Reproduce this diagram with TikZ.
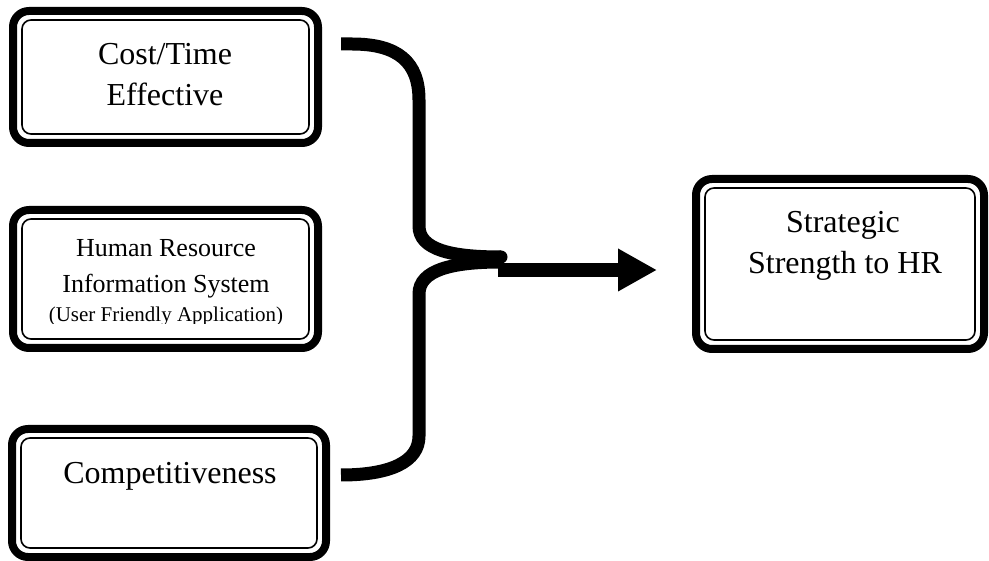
\documentclass[tikz,border=0pt]{standalone}
\usepackage{fontspec}
\setmainfont{Liberation Serif}
\usetikzlibrary{arrows.meta}
\tikzset{
  outerbox/.style={draw=black, line width=8pt, rounded corners=16pt, inner sep=0pt, fill=white},
  innerline/.style={draw=black, line width=1.6pt, rounded corners=9pt},
  lbl/.style={anchor=base, inner sep=0pt, font=\fontsize{32}{38}\selectfont},
  conn/.style={draw=black, line width=13pt, line cap=butt},
}
\begin{document}
\begin{tikzpicture}[x=1pt,y=-1pt]
\useasboundingbox (0,0) rectangle (989,561);
% boxes
\node[outerbox, minimum width=305pt, minimum height=132pt] (b1) at (165.5,77) {};
\draw[innerline] ([shift={(13,13)}]b1.north west) rectangle ([shift={(-13,-13)}]b1.south east);
\node[outerbox, minimum width=305pt, minimum height=138pt] (b2) at (165.5,279) {};
\draw[innerline] ([shift={(13,13)}]b2.north west) rectangle ([shift={(-13,-13)}]b2.south east);
\node[outerbox, minimum width=314pt, minimum height=128pt] (b3) at (169,493) {};
\draw[innerline] ([shift={(13,13)}]b3.north west) rectangle ([shift={(-13,-13)}]b3.south east);
\node[outerbox, minimum width=288pt, minimum height=170pt] (b4) at (840,264) {};
\draw[innerline] ([shift={(13,13)}]b4.north west) rectangle ([shift={(-13,-13)}]b4.south east);
% texts
\node[lbl] (t1a) at (165,65) {Cost/Time};
\node[lbl] (t1b) at (165,106) {Effective};
\node[lbl, font=\fontsize{26}{30}\selectfont] (t2a) at (166,257) {Human Resource};
\node[lbl, font=\fontsize{26}{30}\selectfont] (t2b) at (166,293) {Information System};
\begin{scope}
\clip (20,300) rectangle (310,324);
\node[lbl, font=\fontsize{21}{25}\selectfont] (t2c) at (166,322) {(User Friendly Application)};
\end{scope}
\node[lbl] (t3) at (170,483) {Competitiveness};
\node[lbl] (t4a) at (843,233) {Strategic};
\node[lbl] (t4b) at (845,274) {Strength to HR};
% connectors
\coordinate (c1) at (341,44);
\coordinate (c3) at (341,475);
\coordinate (j1) at (501,257);
\coordinate (j2) at (501,262);
\coordinate (s0) at (498,270);
\coordinate (tip) at (657,270);
\draw[conn] (c1) -- (352,44) .. controls (398,44) and (419,62) .. (419,100)
  -- (419,226) .. controls (419,250) and (452,257) .. (j1);
\draw[conn] (c3) .. controls (390,475) and (419,462) .. (419,436)
  -- (419,294) .. controls (419,270) and (452,262) .. (j2);
\fill[black] (j1) circle (6.5pt);
\draw[black, line width=14pt, -{Triangle[length=39pt, width=40pt]}] (s0) -- (tip);
\end{tikzpicture}
\end{document}
